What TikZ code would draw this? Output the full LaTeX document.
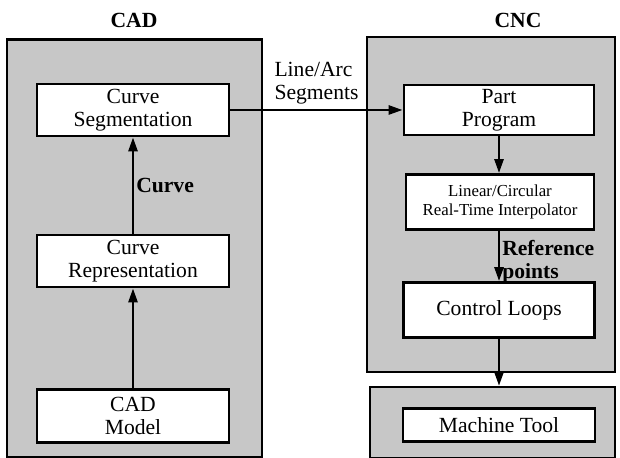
\documentclass[tikz,border=0pt]{standalone}
\usepackage{fontspec}
\setmainfont{Liberation Serif}
\usetikzlibrary{positioning}
\usetikzlibrary{arrows.meta}
\tikzset{panel/.style = {draw, line width=1.1pt, fill=black!22, inner sep=0pt}}
\tikzset{block/.style = {draw, line width=1.4pt, fill=white, align=center, inner sep=0pt, font=\fontsize{10.8}{11.5}\selectfont}}
\tikzset{flow/.style = {-{Triangle[length=7pt,width=4.5pt]}, line width=1.3pt}}
\tikzset{lbl/.style = {font=\fontsize{10.8}{11.5}\selectfont, align=left, inner sep=1pt}}

\begin{document}
\begin{tikzpicture}[x=0.5pt,y=-0.5pt]
\useasboundingbox (0,0) rectangle (620,458);
% panels
\node[panel, minimum width=127.5pt, minimum height=209pt](cad) at (134.5,248.5) {};
\node[panel, minimum width=124pt, minimum height=167.5pt](cnc) at (491,204.5) {};
\node[panel, minimum width=122.5pt, minimum height=35.5pt](mach) at (492.5,422.5) {};
\node[lbl, font=\bfseries\fontsize{10.8}{11.5}\selectfont](cadt) at (134,20) {CAD};
\node[lbl, font=\bfseries\fontsize{10.8}{11.5}\selectfont](cnct) at (518,20) {CNC};
% CAD side
\node[block, minimum width=96pt, minimum height=26pt](seg) at (133,110) {Curve\\Segmentation};
\node[block, minimum width=96pt, minimum height=26pt](rep) at (133,261) {Curve\\Representation};
\node[block, minimum width=96pt, minimum height=26.5pt](model) at (133,416) {CAD\\Model};
% CNC side
\node[block, minimum width=95pt, minimum height=25pt](prog) at (499,110) {Part\\Program};
\node[block, minimum width=94pt, minimum height=27.5pt, font=\fontsize{8.4}{9.2}\selectfont](interp) at (500,202) {Linear/Circular\\Real-Time Interpolator};
\node[block, minimum width=95.5pt, minimum height=27.5pt](loops) at (499,310) {Control Loops};
\node[block, minimum width=96pt, minimum height=16.5pt](tool) at (499,425) {Machine Tool};
% arrows
\draw[flow] (model) -- (rep);
\draw[flow] (rep) -- node[lbl, right, font=\bfseries\fontsize{10.8}{11.5}\selectfont] {Curve} (seg);
\draw[flow] (seg) -- node[lbl, pos=0.5, above=2.5pt, inner sep=0pt] {Line/Arc\\Segments} (prog);
\draw[flow] (prog) -- (prog |- interp.north);
\draw[flow] (prog |- interp.south) -- node[lbl, pos=0.62, right, font=\bfseries\fontsize{10.8}{11.5}\selectfont] {Reference\\points} (loops);
\draw[flow] (loops) -- (loops |- mach.north);
\end{tikzpicture}
\end{document}
